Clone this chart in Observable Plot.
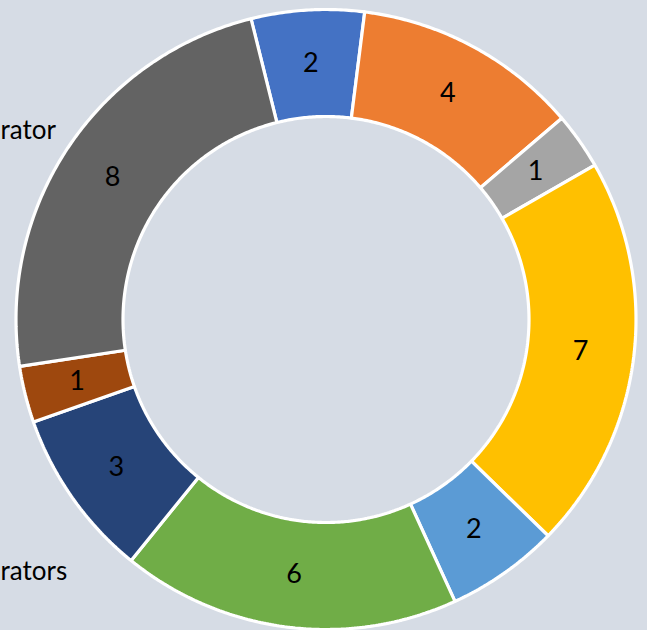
<!DOCTYPE html>
<html><head><meta charset="utf-8">
<script src="https://cdn.jsdelivr.net/npm/d3@7"></script>
<script src="https://cdn.jsdelivr.net/npm/@observablehq/plot@0.6"></script>
<style>
html,body{margin:0;padding:0;background:#D6DCE5;overflow:hidden}
#chart svg{display:block;background:#D6DCE5}
</style>
</head><body><div id="chart"></div>
<script>
// ---- data ----
const categories = ["Item 1","Item 2","Item 3","Item 4","Item 5","Item 6","Item 7","Item 8","Item 9"];
const values = [2, 4, 1, 7, 2, 6, 3, 1, 8];
const colors = ["#4472C4","#ED7D31","#A5A5A5","#FFC000","#5B9BD5","#70AD47","#264478","#9E480E","#636363"];
const sideLabels = ["rator", "rators"];

// ---- layout ----
const W = 647, H = 630;
const cx = 325.5, cy = 319, rOut = 310, rIn = 203;
const startDeg = -14;
const rad = d => d * Math.PI / 180;

const arcs = d3.pie().sort(null).value(d => d.v)
  .startAngle(rad(startDeg)).endAngle(rad(startDeg + 360))(
    categories.map((c, i) => ({c, v: values[i]})));

const poly = [];
const centroids = [];
arcs.forEach(a => {
  const n = Math.max(8, Math.ceil((a.endAngle - a.startAngle) / rad(0.5)));
  const pts = [];
  for (let k = 0; k <= n; k++) {
    const t = a.startAngle + (a.endAngle - a.startAngle) * k / n;
    pts.push({x: Math.sin(t) * rOut, y: Math.cos(t) * rOut});
  }
  for (let k = n; k >= 0; k--) {
    const t = a.startAngle + (a.endAngle - a.startAngle) * k / n;
    pts.push({x: Math.sin(t) * rIn, y: Math.cos(t) * rIn});
  }
  pts.push(pts[0]);
  pts.forEach(p => poly.push({...p, c: a.data.c}));
  const m = (a.startAngle + a.endAngle) / 2, rm = (rOut + rIn) / 2;
  centroids.push({x: Math.sin(m) * rm, y: Math.cos(m) * rm, v: a.data.v});
});

const sidePos = [{x: -cx, y: cy - 130}, {x: -cx, y: cy - 571}];
const side = sideLabels.map((t, i) => ({t, ...sidePos[i]}));

const font = "Lato, 'Open Sans', sans-serif";

const chart = Plot.plot({
  width: W, height: H,
  margin: 0,
  style: {background: "#D6DCE5", overflow: "hidden"},
  x: {domain: [-cx, W - cx], axis: null},
  y: {domain: [-(H - cy), cy], axis: null},
  color: {domain: categories, range: colors},
  marks: [
    Plot.line(poly, {x: "x", y: "y", z: "c", fill: "c", stroke: "white", strokeWidth: 3.2, strokeLinejoin: "miter", curve: "linear"}),
    Plot.text(centroids, {x: "x", y: "y", text: "v", fontSize: 27, fontFamily: font, fill: "black"}),
    Plot.text(side, {x: "x", y: "y", text: "t", textAnchor: "start", fontSize: 26, fontFamily: font, fill: "black"})
  ]
});
document.getElementById("chart").append(chart);
</script>
</body></html>
